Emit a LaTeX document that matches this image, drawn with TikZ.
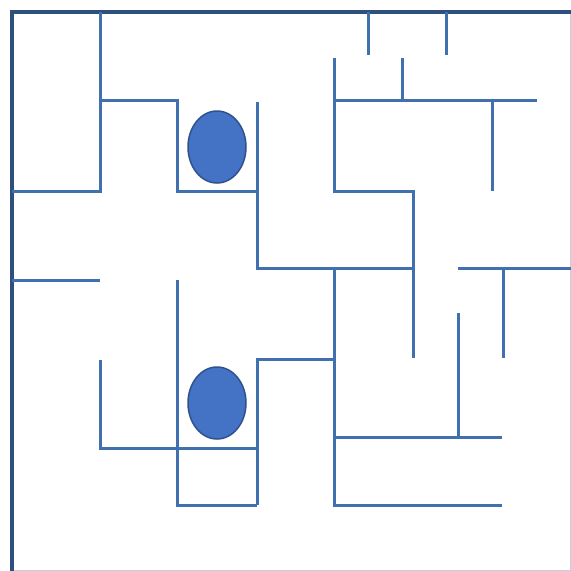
\documentclass[tikz,border=0pt]{standalone}
\definecolor{wallc}{HTML}{4170B0}
\definecolor{borderc}{HTML}{2F4F7F}
\definecolor{ballc}{HTML}{4472C4}
\definecolor{balle}{HTML}{2F528F}
\definecolor{edgec}{HTML}{C8D0DC}
\tikzset{
  wall/.style={draw=wallc, line width=3pt, line cap=butt},
  border/.style={draw=borderc, line width=4pt, line cap=rect},
  ball/.style={ellipse, fill=ballc, draw=balle, line width=1.5pt, minimum width=58pt, minimum height=72pt, inner sep=0pt}
}
\usetikzlibrary{shapes.geometric}
\begin{document}
\begin{tikzpicture}[x=1pt,y=-1pt]
\useasboundingbox (0,0) rectangle (571,571);
\fill[white] (0,0) rectangle (571,571);
% faint image edges
\draw[edgec, line width=1pt] (570,12) -- (570,570) -- (12,570);
% outer border
\draw[border] (571,12) -- (12,12) -- (12,571);
% upper-left walls
\draw[wall] (100,12) -- (100,191) -- (12,191);
\draw[wall] (100,100) -- (177,100) -- (177,191) -- (257,191);
\draw[wall] (257,102) -- (257,268) -- (413,268);
\draw[wall] (12,280) -- (100,280);
% top-right walls
\draw[wall] (368,12) -- (368,55);
\draw[wall] (446,12) -- (446,55);
\draw[wall] (334,58) -- (334,191) -- (413,191) -- (413,358);
\draw[wall] (334,100) -- (537,100);
\draw[wall] (402,58) -- (402,100);
\draw[wall] (492,100) -- (492,191);
\draw[wall] (458,268) -- (571,268);
\draw[wall] (503,268) -- (503,358);
% lower walls
\draw[wall] (334,268) -- (334,505) -- (502,505);
\draw[wall] (334,437) -- (502,437);
\draw[wall] (458,313) -- (458,437);
\draw[wall] (257,505) -- (257,359) -- (334,359);
\draw[wall] (100,360) -- (100,448) -- (257,448);
\draw[wall] (177,280) -- (177,505) -- (257,505);
% balls
\node[ball] (b1) at (217,147) {};
\node[ball] (b2) at (217,403) {};
\end{tikzpicture}
\end{document}
